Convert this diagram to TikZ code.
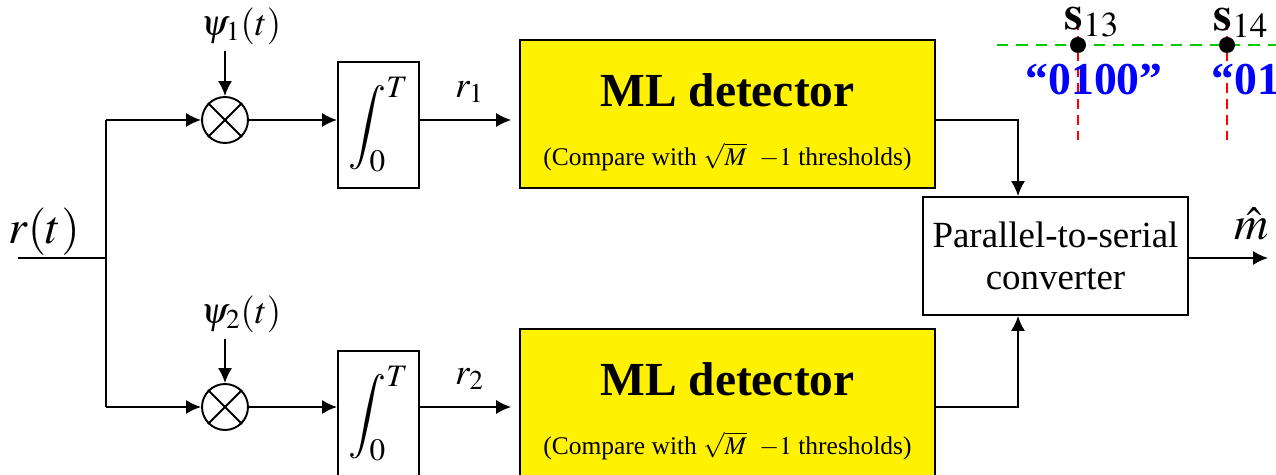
\documentclass[tikz,border=0pt]{standalone}
\usepackage{mathptmx}
\usepackage{fontspec}
\setmainfont{Liberation Serif}
\usetikzlibrary{calc,arrows.meta}

\begin{document}
\begin{tikzpicture}[x=0.02cm,y=-0.02cm,line width=1.1pt,>={Latex[length=8.5pt,width=8pt]},
    block/.style={draw,rectangle,inner sep=0pt},
    mlbox/.style={block,fill=yellow,minimum width=8.3cm,minimum height=2.96cm},
    intbox/.style={block,minimum width=1.62cm,minimum height=2.52cm,font=\fontsize{24}{28}\selectfont},
    mixer/.style={draw,circle,minimum size=0.92cm,inner sep=0pt},
    dot/.style={circle,fill=black,minimum size=0.32cm,inner sep=0pt},
    biglbl/.style={font=\fontsize{27}{30}\selectfont},
    lbl/.style={font=\fontsize{21}{24}\selectfont},
    mltxt/.style={font=\fontsize{27}{32}\selectfont\bfseries},
    cmptxt/.style={font=\fontsize{14.5}{17}\selectfont},
    bits/.style={text=blue,font=\fontsize{26}{30}\selectfont\bfseries}]
    \useasboundingbox (0,0) rectangle (1276,475);

    % signal constellation detail
    \draw[red,dashed,dash pattern=on 5.5pt off 3.5pt] (1078,20) -- (1078,140) (1227,20) -- (1227,140);
    \draw[green!80!black,dash pattern=on 6.5pt off 4.5pt] (997,45) -- (1276,45);
    \node[dot] (s13) at (1078,45) {};
    \node[dot] (s14) at (1227,45) {};
    \node[biglbl,anchor=south west] at (1058,44) {$\mathbf{s}_{13}$};
    \node[biglbl,anchor=south west] at (1207,44) {$\mathbf{s}_{14}$};
    \node[bits] (b13) at (1094,80) {``0100''};
    \node[bits,anchor=west] (b14) at (1205,80) {``01};

    % input and branches
    \node[biglbl] (rt) at (44,232) {$r(t)$};
    \coordinate (in) at (18,258);
    \coordinate (split) at (106,258);
    \coordinate (up) at (106,120);
    \coordinate (dn) at (106,407);
    \draw (in) -- (split);
    \draw (up) -- (dn);

    \node[mixer] (mix1) at (225,120) {};
    \node[mixer] (mix2) at (225,407) {};
    \draw (mix1.north west) -- (mix1.south east) (mix1.north east) -- (mix1.south west);
    \draw (mix2.north west) -- (mix2.south east) (mix2.north east) -- (mix2.south west);
    \node[lbl] (psi1) at (241,26) {$\psi_1(t)$};
    \node[lbl] (psi2) at (241,314) {$\psi_2(t)$};
    \draw[->] (psi1.south -| mix1) -- (mix1.north);
    \draw[->] (psi2.south -| mix2) -- (mix2.north);

    \node[intbox] (int1) at (378.5,125) {$\displaystyle\int_0^T$};
    \node[intbox] (int2) at (378.5,414) {$\displaystyle\int_0^T$};

    \node[mlbox] (ml1) at (727.5,114) {};
    \node[mltxt] (ml1t) at (727.5,90) {ML detector};
    \node[cmptxt] (ml1c) at (727.5,157) {(Compare with $\sqrt{M}$\ \ $-1$ thresholds)};
    \node[mlbox] (ml2) at (727.5,403) {};
    \node[mltxt] (ml2t) at (727.5,379) {ML detector};
    \node[cmptxt] (ml2c) at (727.5,446) {(Compare with $\sqrt{M}$\ \ $-1$ thresholds)};

    \node[block,minimum width=5.3cm,minimum height=2.36cm,align=center,
          font=\fontsize{21}{24}\selectfont] (conv) at (1055.5,256) {Parallel-to-serial\\converter};

    % connections
    \draw[->] (up) -- (mix1);
    \draw[->] (dn) -- (mix2);
    \draw[->] (mix1.east) -- (mix1.east -| int1.west);
    \draw[->] (mix2.east) -- (mix2.east -| int2.west);
    \draw[->,shorten >=4.5pt] (int1.east |- mix1) -- node[lbl,above=6pt] {$r_1$} (ml1.west |- mix1);
    \draw[->,shorten >=4.5pt] (int2.east |- mix2) -- node[lbl,above=6pt] {$r_2$} (ml2.west |- mix2);

    \coordinate (j1) at (1018,120);
    \coordinate (j2) at (1018,407);
    \draw[->] (ml1.east |- j1) -- (j1) -- (j1 |- conv.north);
    \draw[->] (ml2.east |- j2) -- (j2) -- (j2 |- conv.south);

    \coordinate (out) at (1268,258);
    \draw[->] (conv.east |- out) -- (out);
    \node[biglbl] (mhat) at (1252,224) {$\hat{m}$};
\end{tikzpicture}
\end{document}
